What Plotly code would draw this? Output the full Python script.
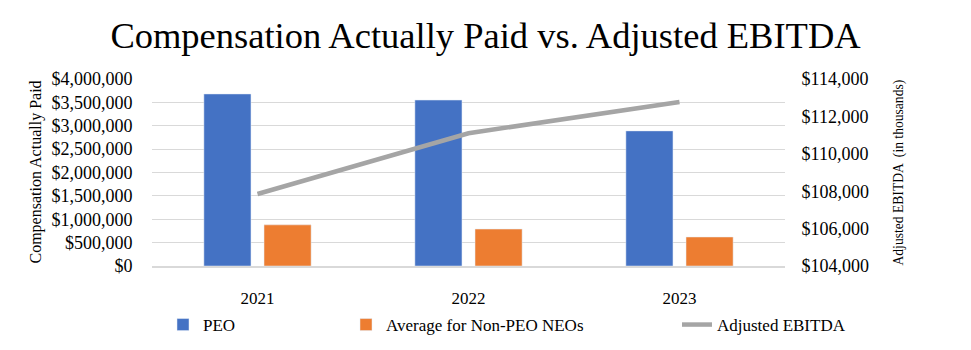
import plotly.graph_objects as go

years = ["2021", "2022", "2023"]
peo = [3680000, 3550000, 2890000]
non_peo = [880000, 790000, 620000]
ebitda = [107850, 111100, 112770]
left_ticks = [0, 500000, 1000000, 1500000, 2000000, 2500000, 3000000, 3500000, 4000000]
right_ticks = [104000, 106000, 108000, 110000, 112000, 114000]

FONT = "Liberation Serif, Times New Roman, serif"
BLUE = "#4472C4"
ORANGE = "#ED7D31"
GRAY = "#A5A5A5"

fig = go.Figure()
fig.add_trace(go.Bar(x=years, y=peo, name="PEO", marker_color=BLUE, legend="legend", showlegend=True))
fig.add_trace(go.Bar(x=years, y=non_peo, name="Average for Non-PEO NEOs", marker_color=ORANGE,
                     legend="legend2", showlegend=True))
fig.add_trace(go.Scatter(x=years, y=ebitda, name="Adjusted EBITDA", mode="lines",
                         line=dict(color=GRAY, width=4.5), yaxis="y2", legend="legend3", showlegend=True))

leg_common = dict(orientation="h", yanchor="middle", y=25 / 350, yref="container",
                  xanchor="left", xref="container",
                  font=dict(family=FONT, size=17, color="#000"), bgcolor="rgba(0,0,0,0)",
                  itemwidth=30)

fig.update_layout(
    width=971, height=350,
    margin=dict(l=152, r=186, t=79, b=84, autoexpand=False),
    showlegend=True,
    paper_bgcolor="white", plot_bgcolor="white",
    font=dict(family=FONT, size=17, color="#000"),
    title=dict(text="Compensation Actually Paid vs. Adjusted EBITDA", x=0.5, xanchor="center",
               y=1 - 35 / 350, yanchor="middle", yref="container",
               font=dict(family=FONT, size=36.5, color="#000")),
    barmode="group", bargap=0.43, bargroupgap=0.217,
    xaxis=dict(showgrid=False, showline=True, linecolor="#d9d9d9", linewidth=1.5,
               automargin=False,
               ticks="outside", ticklen=16, tickcolor="rgba(0,0,0,0)",
               tickfont=dict(family=FONT, size=17, color="#000")),
    yaxis=dict(range=[0, 4000000], tickvals=left_ticks, automargin=False,
               ticktext=["$" + format(v, ",") for v in left_ticks],
               showgrid=True, gridcolor="#d9d9d9", gridwidth=1, zeroline=False,
               ticks="outside", ticklen=15, tickcolor="rgba(0,0,0,0)",
               tickfont=dict(family=FONT, size=18, color="#000")),
    yaxis2=dict(range=[104000, 114000], tickvals=right_ticks, automargin=False,
                ticktext=["$" + format(v, ",") for v in right_ticks],
                overlaying="y", side="right", showgrid=False, zeroline=False,
                ticks="outside", ticklen=12, tickcolor="rgba(0,0,0,0)",
                tickfont=dict(family=FONT, size=18, color="#000")),
    legend=dict(x=163 / 971, **leg_common),
    legend2=dict(x=346 / 971, **leg_common),
    legend3=dict(x=677 / 971, **leg_common),
    annotations=[
        dict(text="Compensation Actually Paid", textangle=-90, xref="paper", yref="paper",
             x=(35 - 152) / 633, y=0.5, xanchor="center", yanchor="middle", showarrow=False,
             font=dict(family=FONT, size=16, color="#000")),
        dict(text="Adjusted EBITDA  (in thousands)", textangle=-90, xref="paper", yref="paper",
             x=(898 - 152) / 633, y=0.5, xanchor="center", yanchor="middle", showarrow=False,
             font=dict(family=FONT, size=13.6, color="#000")),
    ],
)

fig.write_html("out.html")
